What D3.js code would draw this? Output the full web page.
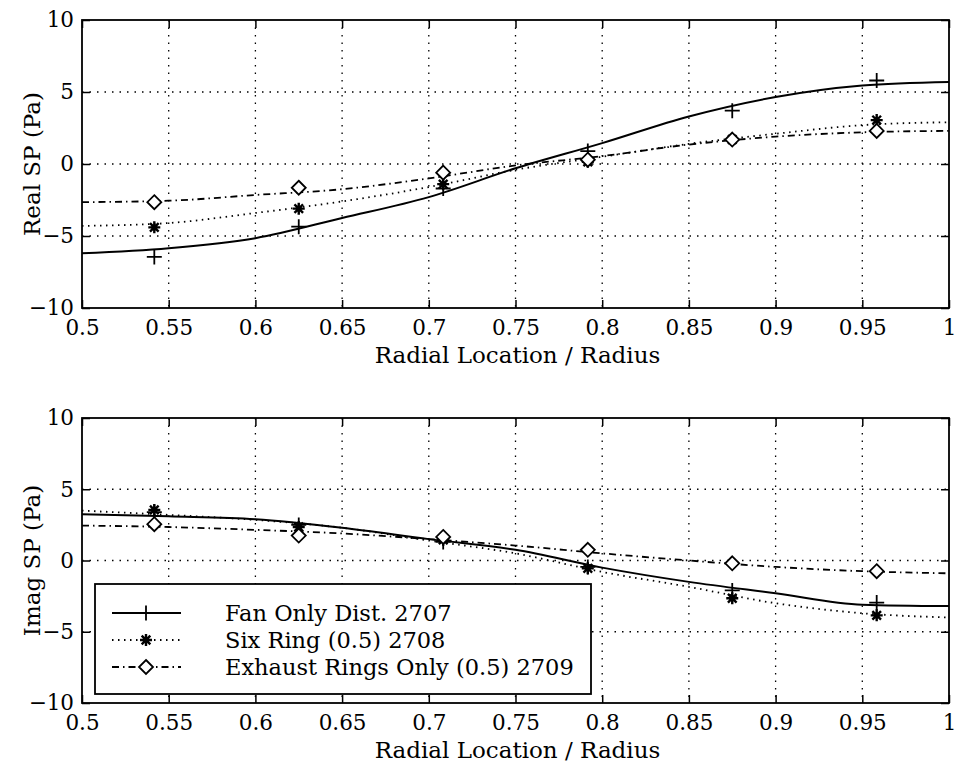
<!DOCTYPE html>
<html>
<head>
<meta charset="utf-8">
<script src="https://cdn.jsdelivr.net/npm/d3@7"></script>
<style>
  body { margin: 0; background: #fff; }
</style>
</head>
<body>
<svg id="chart" width="956" height="766"></svg>
<script>
// radial stations of the six rings (markers)
const ringX = [0.5417, 0.625, 0.7083, 0.7917, 0.875, 0.9583];
// stations of the fitted curves
const fitX = [0.5, 0.55, 0.6, 0.65, 0.7, 0.75, 0.8, 0.85, 0.9, 0.95, 1.0];

const seriesNames = ['Fan Only Dist. 2707', 'Six Ring (0.5) 2708', 'Exhaust Rings Only (0.5) 2709'];

// real part
const fanReal = [-6.45, -4.35, -1.7, 0.9, 3.7, 5.8];
const sixReal = [-4.4, -3.1, -1.4, 0.15, 1.7, 3.05];
const exhReal = [-2.65, -1.65, -0.6, 0.3, 1.7, 2.3];
const fanRealFit = [-6.2, -5.85, -5.15, -3.75, -2.3, -0.3, 1.45, 3.3, 4.65, 5.45, 5.7];
const sixRealFit = [-4.3, -4.1, -3.4, -2.6, -1.6, -0.4, 0.5, 1.4, 2.1, 2.7, 2.9];
const exhRealFit = [-2.65, -2.55, -2.15, -1.75, -1.0, -0.1, 0.55, 1.35, 1.9, 2.2, 2.3];

// imaginary part
const fanImag = [3.4, 2.5, 1.3, -0.45, -2.1, -2.95];
const sixImag = [3.55, 2.35, 1.45, -0.55, -2.65, -3.85];
const exhImag = [2.55, 1.75, 1.65, 0.75, -0.2, -0.75];
const fanImagFit = [3.25, 3.1, 2.9, 2.3, 1.5, 0.75, -0.5, -1.5, -2.3, -3.1, -3.2];
const sixImagFit = [3.5, 3.2, 2.85, 2.3, 1.4, 0.5, -0.8, -1.85, -3.0, -3.7, -4.0];
const exhImagFit = [2.45, 2.35, 2.15, 1.9, 1.5, 1.05, 0.5, 0.0, -0.45, -0.75, -0.9];

const xTicks = [0.5, 0.55, 0.6, 0.65, 0.7, 0.75, 0.8, 0.85, 0.9, 0.95, 1];
const yTicks = [-10, -5, 0, 5, 10];

const serif = '"DejaVu Serif", "Liberation Serif", serif';

const svg = d3.select('#chart');

const dashes = ['none', '1.5,4.5', '7,4,1.5,4'];
const markers = ['plus', 'star', 'diamond'];

const markerPath = (type, s) => {
  if (type === 'plus') return `M${-s},0H${s}M0,${-s}V${s}`;
  if (type === 'star') {
    const d = s * 0.72;
    return `M${-s},0H${s}M0,${-s}V${s}M${-d},${-d}L${d},${d}M${-d},${d}L${d},${-d}`;
  }
  return `M0,${-s}L${s},0L0,${s}L${-s},0Z`;
};

const drawMarker = (g, type, x, y) => {
  const size = type === 'plus' ? 7.5 : type === 'star' ? 6 : 7;
  g.append('path')
    .attr('transform', 'translate(' + x + ',' + y + ')')
    .attr('d', markerPath(type, size))
    .attr('fill', type === 'diamond' ? '#fff' : 'none')
    .attr('stroke', '#000')
    .attr('stroke-width', type === 'star' ? 2.4 : 1.8);
};

const drawPanel = (top, bottom, yLabel, fits, points, withLegend) => {
  const left = 82, right = 949;
  const x = d3.scaleLinear().domain([0.5, 1]).range([left, right]);
  const y = d3.scaleLinear().domain([-10, 10]).range([bottom, top]);
  const g = svg.append('g');

  // grid
  g.selectAll('.vgrid').data(xTicks.slice(1, -1)).enter()
    .append('line')
    .attr('x1', d => x(d)).attr('x2', d => x(d))
    .attr('y1', top).attr('y2', bottom)
    .attr('stroke', '#000').attr('stroke-width', 1.3)
    .attr('stroke-dasharray', '1.5,6');
  g.selectAll('.hgrid').data(yTicks.slice(1, -1)).enter()
    .append('line')
    .attr('x1', left).attr('x2', right)
    .attr('y1', d => y(d)).attr('y2', d => y(d))
    .attr('stroke', '#000').attr('stroke-width', 1.3)
    .attr('stroke-dasharray', '1.5,6');

  // axes with inward ticks on all sides
  const ax = (axis, tx, ty, labels) => {
    const a = g.append('g').attr('transform', 'translate(' + tx + ',' + ty + ')').call(axis);
    a.select('.domain').remove();
    a.selectAll('line').attr('stroke', '#000').attr('stroke-width', 1.5);
    if (!labels) a.selectAll('text').remove();
    a.selectAll('text')
      .style('font-family', serif)
      .style('font-size', '21.5px')
      .attr('fill', '#000');
    return a;
  };
  ax(d3.axisBottom(x).tickValues(xTicks).tickSizeInner(-8).tickSizeOuter(0).tickPadding(12).tickFormat(d3.format('')), 0, bottom, true);
  ax(d3.axisTop(x).tickValues(xTicks).tickSizeInner(-8).tickSizeOuter(0), 0, top, false);
  ax(d3.axisLeft(y).tickValues(yTicks).tickSizeInner(-8).tickSizeOuter(0).tickPadding(8), left, 0, true);
  ax(d3.axisRight(y).tickValues(yTicks).tickSizeInner(-8).tickSizeOuter(0), right, 0, false);

  g.append('rect')
    .attr('x', left).attr('y', top)
    .attr('width', right - left).attr('height', bottom - top)
    .attr('fill', 'none').attr('stroke', '#000').attr('stroke-width', 1.8);

  // fitted curves
  const line = d3.line()
    .x((d, i) => x(fitX[i]))
    .y(d => y(d))
    .curve(d3.curveMonotoneX);
  fits.forEach((f, k) => {
    g.append('path')
      .attr('d', line(f))
      .attr('fill', 'none')
      .attr('stroke', '#000')
      .attr('stroke-width', k === 0 ? 2 : 1.8)
      .attr('stroke-dasharray', dashes[k]);
  });

  // measured points
  points.forEach((p, k) => {
    p.forEach((v, i) => drawMarker(g, markers[k], x(ringX[i]), y(v)));
  });

  // labels
  g.append('text')
    .attr('x', (left + right) / 2 + 2)
    .attr('y', bottom + 55)
    .attr('text-anchor', 'middle')
    .style('font-family', serif)
    .style('font-size', '23px')
    .text('Radial Location / Radius');
  g.append('text')
    .attr('transform', 'translate(40,' + ((top + bottom) / 2) + ') rotate(-90)')
    .attr('text-anchor', 'middle')
    .style('font-family', serif)
    .style('font-size', '23px')
    .text(yLabel);

  if (withLegend) {
    const lg = g.append('g');
    lg.append('rect')
      .attr('x', 95).attr('y', 584)
      .attr('width', 496).attr('height', 110)
      .attr('fill', '#fff').attr('stroke', '#000').attr('stroke-width', 1.8);
    seriesNames.forEach((name, k) => {
      const ry = 613 + k * 27;
      lg.append('line')
        .attr('x1', 112).attr('x2', 181)
        .attr('y1', ry).attr('y2', ry)
        .attr('stroke', '#000')
        .attr('stroke-width', k === 0 ? 2 : 1.8)
        .attr('stroke-dasharray', dashes[k]);
      drawMarker(lg, markers[k], 146, ry);
      lg.append('text')
        .attr('x', 225).attr('y', ry + 8)
        .style('font-family', serif)
        .style('font-size', '22.5px')
        .text(name);
    });
  }
};

drawPanel(20, 308, 'Real SP (Pa)',
  [fanRealFit, sixRealFit, exhRealFit], [fanReal, sixReal, exhReal], false);
drawPanel(418, 703, 'Imag SP (Pa)',
  [fanImagFit, sixImagFit, exhImagFit], [fanImag, sixImag, exhImag], true);
</script>
</body>
</html>
